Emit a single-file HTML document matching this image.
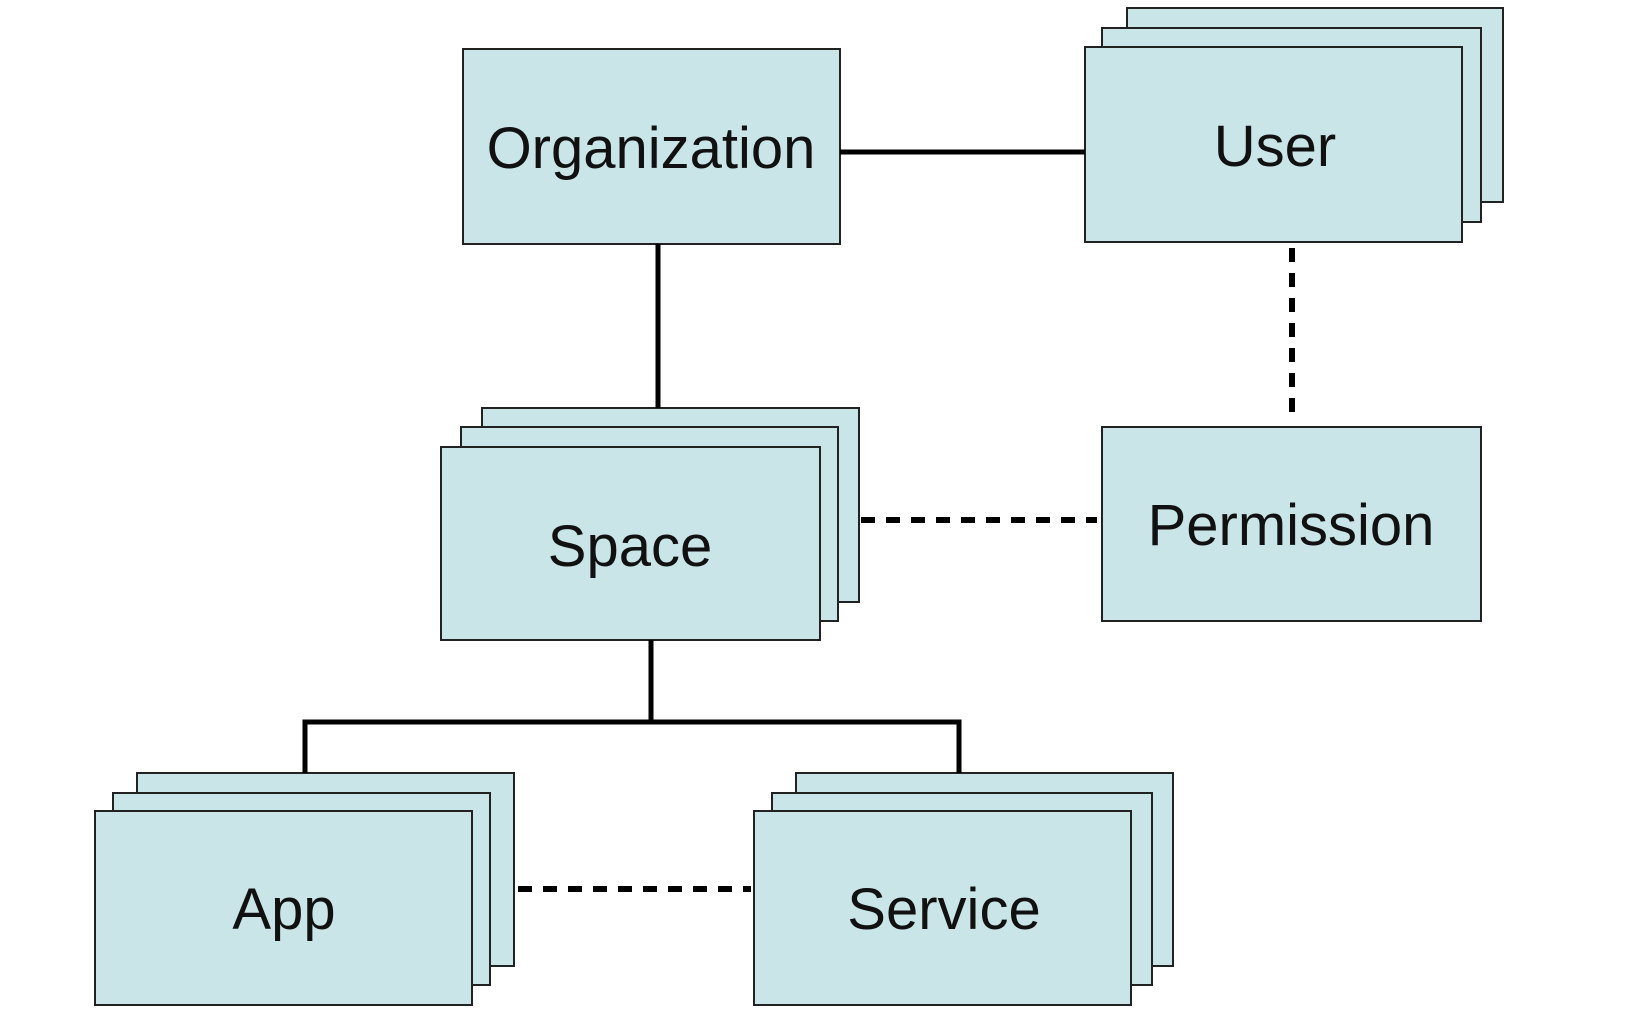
<!DOCTYPE html>
<html><head><style>body{margin:0;background:#fff}</style></head><body>
<svg width="1642" height="1024" viewBox="0 0 1642 1024" xmlns="http://www.w3.org/2000/svg" font-family="Liberation Sans, Arial, sans-serif">
<g fill="#c9e5e8" stroke="#222" stroke-width="2">
<rect x="463" y="49" width="377" height="195"/>
<rect x="1127" y="8" width="376" height="194"/>
<rect x="1102" y="28" width="379" height="194"/>
<rect x="1085" y="47" width="377" height="195"/>
<rect x="482" y="408" width="377" height="194"/>
<rect x="461" y="427" width="377" height="194"/>
<rect x="441" y="447" width="379" height="193"/>
<rect x="1102" y="427" width="379" height="194"/>
<rect x="137" y="773" width="377" height="193"/>
<rect x="113" y="793" width="377" height="192"/>
<rect x="95" y="811" width="377" height="194"/>
<rect x="796" y="773" width="377" height="193"/>
<rect x="772" y="793" width="380" height="192"/>
<rect x="754" y="811" width="377" height="194"/>
</g>
<g stroke="#000" stroke-width="5" fill="none">
<line x1="840" y1="152" x2="1085" y2="152"/>
<line x1="658" y1="244" x2="658" y2="408"/>
<line x1="651" y1="640" x2="651" y2="722"/>
<polyline points="305,773 305,722 959,722 959,773"/>
</g>
<g stroke="#000" stroke-width="6" fill="none" stroke-dasharray="14,11">
<line x1="1292" y1="248" x2="1292" y2="419"/>
<line x1="861" y1="520" x2="1097" y2="520"/>
<line x1="518" y1="889" x2="751" y2="889"/>
</g>
<g font-size="58" fill="#111" text-anchor="middle">
<text x="651" y="168">Organization</text>
<text x="1275" y="166">User</text>
<text x="630" y="566">Space</text>
<text x="1291" y="545">Permission</text>
<text x="284" y="929">App</text>
<text x="944" y="929">Service</text>
</g>
</svg>
</body></html>
